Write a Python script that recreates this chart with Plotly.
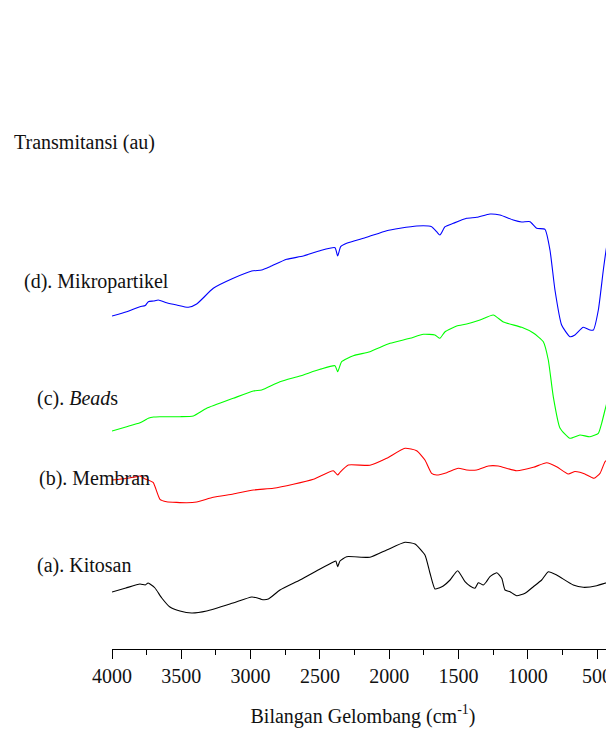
import plotly.graph_objects as go

# Wavenumbers (cm^-1) and transmittance (arbitrary units, offset spectra)
kitosan_wn = [4000, 3900, 3798, 3760, 3740, 3726, 3690, 3641, 3582, 3510, 3425, 3317, 3127, 2992, 2950, 2920, 2872, 2788, 2644, 2499, 2403, 2385, 2372, 2355, 2307, 2139, 2018, 1886, 1814, 1742, 1706, 1670, 1640, 1610, 1561, 1506, 1453, 1417, 1381, 1357, 1321, 1300, 1273, 1224, 1188, 1164, 1128, 1080, 1020, 960, 900, 852, 792, 672, 600, 503, 419, 400, 388]
kitosan_t = [57, 61, 65, 64, 66, 65, 61, 51, 42, 38, 36, 38, 46, 52, 51, 49.5, 50, 59, 69, 80, 87, 88, 82.3, 88, 92.3, 91.7, 99, 106.7, 105, 94, 76, 60, 61, 63, 69, 78.3, 67.3, 63, 60.7, 66.3, 64, 67, 72.3, 76.3, 70.7, 59, 57.3, 53.3, 55.7, 62.3, 69, 77.3, 74, 64, 61.7, 63.3, 67.3, 72, 87]

membran_wn = [4000, 3900, 3846, 3798, 3760, 3738, 3702, 3654, 3606, 3461, 3389, 3269, 3125, 2980, 2836, 2692, 2547, 2403, 2372, 2355, 2295, 2139, 2018, 1886, 1802, 1742, 1694, 1658, 1585, 1502, 1441, 1369, 1285, 1213, 1080, 960, 864, 792, 708, 660, 624, 588, 522, 479, 443, 419, 407, 400, 395, 390, 384]
membran_t = [169, 170.5, 171.7, 173, 170, 169, 166.3, 149.7, 147.3, 146.3, 147, 151.7, 155, 159, 160.7, 164.7, 169.7, 178.3, 174, 176.7, 184, 183.7, 190.7, 200.7, 198.3, 189, 175.7, 174, 176.3, 180.7, 179, 179, 183, 183, 178.3, 181.7, 186.3, 182.3, 175, 177.5, 176.7, 175, 170.7, 175.7, 187.3, 190.7, 202.3, 189, 217, 194, 214]

beads_wn = [4000, 3894, 3798, 3760, 3738, 3700, 3654, 3510, 3413, 3317, 3125, 2980, 2920, 2788, 2644, 2499, 2391, 2372, 2343, 2259, 2139, 1994, 1850, 1754, 1670, 1634, 1597, 1513, 1441, 1345, 1249, 1176, 1044, 960, 888, 852, 816, 768, 696, 624, 551, 491, 467, 443, 430, 407, 395, 385]
beads_t = [218, 222.3, 226.3, 229, 230.7, 232, 232.3, 232.3, 233, 240.7, 250.7, 258, 259, 267.3, 273, 279.7, 283.3, 277.3, 287.3, 293.3, 297.3, 305.7, 310.7, 314.7, 314, 310.7, 317.3, 323, 325, 329, 334, 327, 321.7, 316, 307.3, 289, 252.3, 221, 210.7, 214, 212.3, 215.7, 225.7, 239, 246, 277, 251, 312]

mikro_wn = [4000, 3894, 3798, 3760, 3738, 3700, 3666, 3606, 3533, 3449, 3389, 3269, 3125, 2992, 2920, 2860, 2740, 2620, 2499, 2391, 2372, 2350, 2307, 2163, 2018, 1922, 1802, 1694, 1658, 1634, 1597, 1537, 1441, 1369, 1273, 1201, 1105, 1044, 984, 936, 876, 840, 804, 756, 696, 660, 600, 551, 527, 491, 455, 431, 402, 388, 383]
mikro_t = [333, 337.3, 342.3, 343.5, 347.3, 348, 349, 346.3, 344, 341.7, 345, 360.7, 370.7, 378, 379, 382.3, 389.7, 393, 398.3, 401.3, 393, 402.3, 405.7, 411.7, 418.3, 420.7, 423, 422.3, 417.3, 414, 422.3, 425.7, 430.7, 431.7, 435, 434, 429, 427, 427.3, 420.7, 419.7, 399, 359, 324, 312.3, 314, 321.7, 319, 319, 339, 379, 402.3, 420.7, 415.7, 422.3]

series_names = ["(a). Kitosan", "(b). Membran", "(c). <i>Bead</i>s", "(d). Mikropartikel"]
series_colors = ["#000000", "#ff0000", "#00ff00", "#0000ff"]

tick_vals = [4000, 3500, 3000, 2500, 2000, 1500, 1000, 500]
tick_text = ["4000", "3500", "3000", "2500", "2000", "1500", "1000", "500"]

FONT = "Liberation Serif, Times New Roman, serif"

fig = go.Figure()
for wn, t, c in zip([kitosan_wn, membran_wn, beads_wn, mikro_wn],
                    [kitosan_t, membran_t, beads_t, mikro_t], series_colors):
    fig.add_trace(go.Scatter(x=wn, y=t, mode="lines",
                             line=dict(color=c, width=1.1, shape="spline", smoothing=0.5),
                             showlegend=False, cliponaxis=False))

# label positions in paper coordinates (left of plot area)
label_pos = [(-0.1534, 0.153), (-0.1494, 0.311), (-0.1534, 0.457), (-0.1793, 0.670)]
for name, (lx, ly) in zip(series_names, label_pos):
    fig.add_annotation(x=lx, y=ly, xref="paper", yref="paper", text=name, showarrow=False,
                       xanchor="left", yanchor="middle",
                       font=dict(family=FONT, size=20, color="#111"))

fig.add_annotation(x=-0.1992, y=0.922, xref="paper", yref="paper", text="Transmitansi (au)",
                   showarrow=False, xanchor="left", yanchor="middle",
                   font=dict(family=FONT, size=20, color="#111"))

fig.update_layout(
    width=606, height=721,
    margin=dict(l=104, r=0, t=92, b=80),
    paper_bgcolor="white", plot_bgcolor="white",
    font=dict(family=FONT, size=20, color="#111"),
    xaxis=dict(range=[4000, 378], tickvals=tick_vals, ticktext=tick_text,
               ticks="outside", ticklen=9, tickwidth=1, tickcolor="#000",
               showline=True, linecolor="#000", linewidth=1,
               showgrid=False, zeroline=False,
               minor=dict(dtick=250, ticks="outside", ticklen=5, tickcolor="#000", tickwidth=1, showgrid=False),
               tickfont=dict(family=FONT, size=20, color="#111"),
               title=dict(text="Bilangan Gelombang (cm<sup>-1</sup>)", standoff=22,
                          font=dict(family=FONT, size=20, color="#111"))),
    yaxis=dict(range=[0, 549], visible=False, fixedrange=True),
)

fig.write_html("out.html")
